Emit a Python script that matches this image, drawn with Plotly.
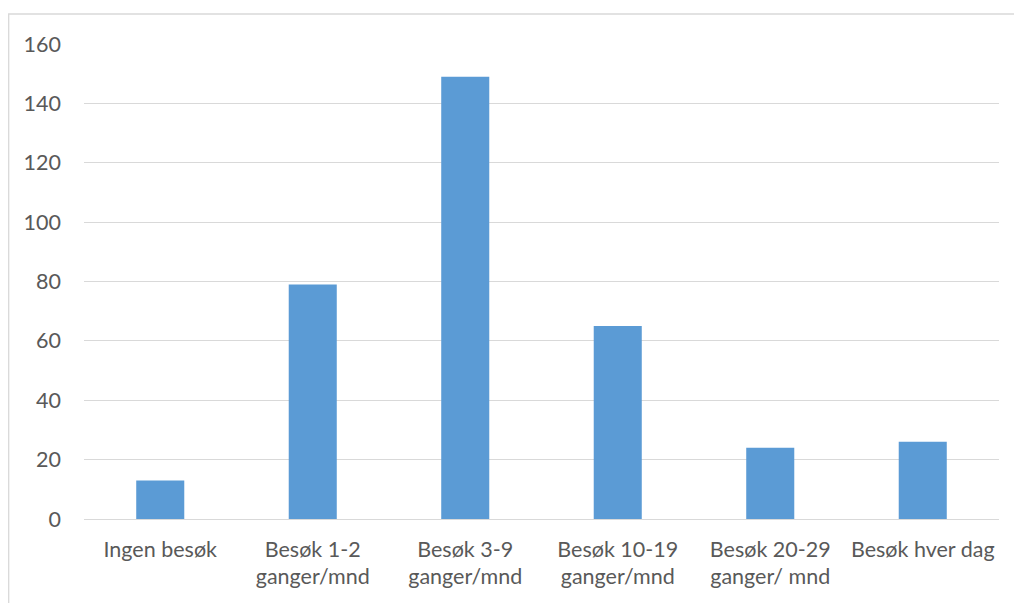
import plotly.graph_objects as go

categories = ["Ingen besøk", "Besøk 1-2<br>ganger/mnd", "Besøk 3-9<br>ganger/mnd",
              "Besøk 10-19<br>ganger/mnd", "Besøk 20-29<br>ganger/ mnd", "Besøk hver dag"]
values = [13, 79, 149, 65, 24, 26]
y_ticks = [0, 20, 40, 60, 80, 100, 120, 140, 160]

W, H = 1014, 603
L, R, T, B = 84, 15, 44, 84
pw, ph = W - L - R, H - T - B

fig = go.Figure(go.Bar(x=categories, y=values, marker_color="#5B9BD5",
                       marker_line_width=0, width=0.315))

fig.update_layout(
    width=W, height=H,
    margin=dict(l=L, r=R, t=T, b=B),
    paper_bgcolor="white", plot_bgcolor="white",
    font=dict(family="Lato, Open Sans, sans-serif", size=21.5, color="#595959"),
    showlegend=False,
    xaxis=dict(showgrid=False, showline=False, ticks="", ticklabelstandoff=15,
               tickfont=dict(size=21.5, color="#595959")),
    yaxis=dict(range=[0, 160], tickvals=y_ticks, showgrid=True, gridcolor="#D9D9D9",
               gridwidth=1.3, zeroline=True, zerolinecolor="#D9D9D9", zerolinewidth=1.3,
               showline=False, ticks="", ticklabelstandoff=22,
               tickfont=dict(size=21.5, color="#595959")),
    shapes=[dict(type="rect", xref="paper", yref="paper",
                 x0=(8.7 - L) / pw, x1=1 + (R + 10) / pw,
                 y0=-(B + 10) / ph, y1=1 + (T - 14) / ph,
                 line=dict(color="#D9D9D9", width=1.3), fillcolor="rgba(0,0,0,0)",
                 layer="below")],
)

fig.write_html("out.html", config={"displayModeBar": False},
               post_script="document.body.style.margin='0';document.body.style.overflow='hidden';")
